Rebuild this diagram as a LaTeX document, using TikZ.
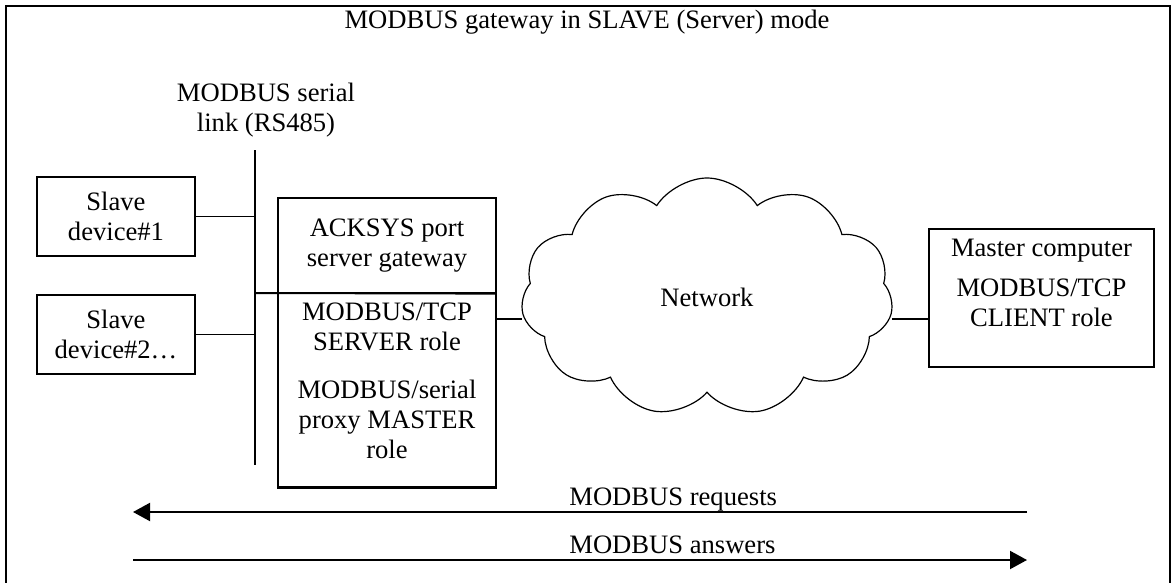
\documentclass[tikz,border=0pt]{standalone}
\usepackage{fontspec}
\setmainfont{Liberation Serif}
\usepackage{tikz}
\usetikzlibrary{shapes.symbols,arrows.meta}
\tikzstyle{Device}=[rectangle, draw=black, line width=0.6pt, align=center, inner sep=2pt]
\tikzstyle{Flow}=[line width=1pt, -{Triangle[length=8.5pt,width=9pt]}]
\tikzstyle{FlowLabel}=[anchor=base west, inner sep=0pt, yshift=3.5pt]

\begin{document}
\begin{tikzpicture}[x=0.5pt, y=-0.5pt, line width=0.6pt, font=\fontsize{13.3pt}{15pt}\selectfont]
    \useasboundingbox (0,0) rectangle (1172,583);
    \draw (6,583) |- (1170,6) -- (1170,583);

    \path
    (587,22) node (title) {MODBUS gateway in SLAVE (Server) mode}
    (266,110) node[align=center] (buslabel) {MODBUS serial\\link (RS485)}
    (116,216.5) node[Device, minimum width=79pt, minimum height=39.5pt] (slave1) {Slave\\device\#1}
    (116,334.5) node[Device, minimum width=79pt, minimum height=39.5pt] (slave2) {Slave\\device\#2…}
    (387,245.5) node[Device, minimum width=109pt, minimum height=47.5pt] (gwtop) {ACKSYS port\\server gateway}
    (387,390) node[Device, minimum width=109pt, minimum height=97pt] (gwbot)
        {MODBUS/TCP\\SERVER role\\[9pt]MODBUS/serial\\proxy MASTER\\role\\[-6pt]\mbox{}}
    (707,297) node[cloud, draw=black, cloud puffs=11, cloud puff arc=115, cloud ignores aspect,
        minimum width=186pt, minimum height=119pt] (net) {Network}
    (1041.5,298) node[Device, minimum width=112.5pt, minimum height=69pt] (master)
        {Master computer\\[5pt]MODBUS/TCP\\CLIENT role\\\mbox{}};

    \coordinate (bustop) at (255,150);
    \coordinate (busbot) at (255,465);
    \coordinate (bustap) at (255,293);
    \coordinate (gwport) at (496,319);
    \coordinate (msport) at (929,319);
    \coordinate (reqfrom) at (1027,512);
    \coordinate (reqto) at (133,512);
    \coordinate (ansfrom) at (133,560);
    \coordinate (ansto) at (1027,560);

    \draw (bustop) -- (busbot);
    \draw (slave1) -- (slave1 -| bustop);
    \draw (slave2) -- (slave2 -| bustop);
    \draw[line width=1pt] (bustap) -- (gwtop.south east);
    \draw[line width=1pt] (gwbot.south west) -- (gwbot.south east);
    \draw (gwport) -- (gwport -| net.west);
    \draw (msport) -- (msport -| net.east);

    \draw[Flow] (reqfrom) -- node[FlowLabel, pos=0.513] {MODBUS requests} (reqto);
    \draw[Flow] (ansfrom) -- node[FlowLabel, pos=0.487] {MODBUS answers} (ansto);
\end{tikzpicture}
\end{document}
